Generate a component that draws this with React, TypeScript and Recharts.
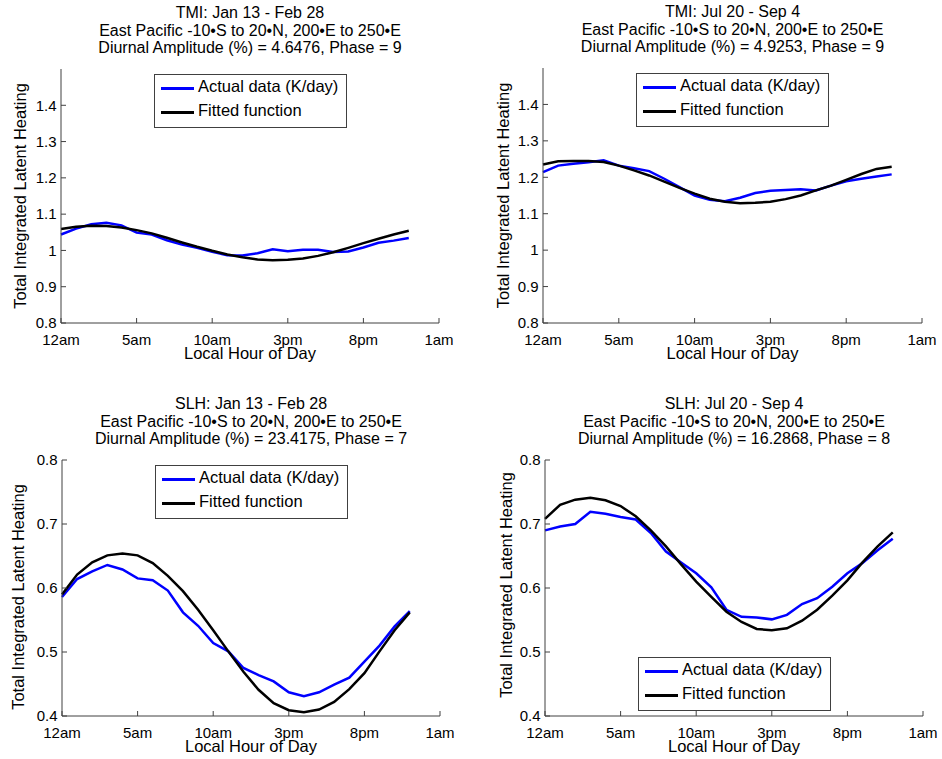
import React from 'react';
import { LineChart, Line, XAxis, YAxis, Legend } from 'recharts';

const hours = [0, 1, 2, 3, 4, 5, 6, 7, 8, 9, 10, 11, 12, 13, 14, 15, 16, 17, 18, 19, 20, 21, 22, 23];
const xTicks = [0, 5, 10, 15, 20, 25];
const xTickLabels = ['12am', '5am', '10am', '3pm', '8pm', '1am'];

const tmiYTicks = [0.8, 0.9, 1.0, 1.1, 1.2, 1.3, 1.4];
const tmiYTickLabels = ['0.8', '0.9', '1', '1.1', '1.2', '1.3', '1.4'];
const slhYTicks = [0.4, 0.5, 0.6, 0.7, 0.8];
const slhYTickLabels = ['0.4', '0.5', '0.6', '0.7', '0.8'];

const tmiJanActual = [1.044, 1.060, 1.072, 1.076, 1.069, 1.049, 1.044, 1.028, 1.016, 1.007, 0.996, 0.987, 0.986, 0.992, 1.003, 0.998, 1.002, 1.002, 0.996, 0.997, 1.008, 1.021, 1.027, 1.034];
const tmiJanFit = [1.059, 1.065, 1.068, 1.067, 1.063, 1.056, 1.047, 1.035, 1.022, 1.010, 0.999, 0.989, 0.981, 0.975, 0.973, 0.974, 0.978, 0.985, 0.995, 1.007, 1.020, 1.032, 1.044, 1.054];
const tmiJulActual = [1.214, 1.232, 1.237, 1.241, 1.247, 1.232, 1.225, 1.217, 1.196, 1.173, 1.150, 1.138, 1.134, 1.144, 1.157, 1.163, 1.165, 1.167, 1.164, 1.177, 1.189, 1.196, 1.202, 1.208];
const tmiJulFit = [1.235, 1.244, 1.245, 1.245, 1.242, 1.232, 1.219, 1.205, 1.188, 1.171, 1.155, 1.141, 1.133, 1.129, 1.130, 1.133, 1.140, 1.150, 1.164, 1.177, 1.193, 1.209, 1.223, 1.229];
const slhJanActual = [0.586, 0.614, 0.626, 0.636, 0.629, 0.615, 0.612, 0.596, 0.562, 0.541, 0.514, 0.501, 0.475, 0.464, 0.454, 0.437, 0.431, 0.437, 0.449, 0.460, 0.485, 0.510, 0.540, 0.564];
const slhJanFit = [0.590, 0.621, 0.640, 0.651, 0.654, 0.651, 0.639, 0.619, 0.595, 0.566, 0.534, 0.501, 0.469, 0.441, 0.420, 0.409, 0.406, 0.410, 0.422, 0.442, 0.467, 0.501, 0.534, 0.562];
const slhJulActual = [0.690, 0.696, 0.700, 0.719, 0.716, 0.711, 0.707, 0.686, 0.657, 0.640, 0.623, 0.601, 0.566, 0.555, 0.554, 0.551, 0.558, 0.575, 0.584, 0.602, 0.623, 0.639, 0.659, 0.677];
const slhJulFit = [0.708, 0.730, 0.738, 0.741, 0.737, 0.728, 0.712, 0.690, 0.665, 0.637, 0.610, 0.586, 0.563, 0.547, 0.536, 0.534, 0.537, 0.549, 0.566, 0.588, 0.612, 0.640, 0.665, 0.687];

const seriesNames = ['Actual data (K/day)', 'Fitted function'];
const axisTitleX = 'Local Hour of Day';
const axisTitleY = 'Total Integrated Latent Heating';

const FONT = '"Liberation Sans", Arial, Helvetica, sans-serif';
const BOX = '#404040';

type PanelProps = {
  left: number; top: number; width: number; height: number;
  yAxisWidth: number; marginTop: number; marginRight: number; xAxisHeight: number;
  domain: [number, number]; yTicks: number[]; yLabels: string[];
  actual: number[]; fit: number[]; titles: string[];
  legendBottom: boolean; yLabelOffset: number; yLabelShift: number;
};

const findLabel = (ticks: number[], labels: string[], v: number) => {
  const i = ticks.findIndex((t) => Math.abs(t - v) < 1e-9);
  return i >= 0 ? labels[i] : '';
};

const Panel = (p: PanelProps) => {
  const data = hours.map((h, i) => ({ hour: h, actual: p.actual[i], fit: p.fit[i] }));
  const plotLeft = p.yAxisWidth;
  const plotRight = p.width - p.marginRight;
  const plotTop = p.marginTop;
  const plotBottom = p.height - p.xAxisHeight;
  const cx = (plotLeft + plotRight) / 2;
  const cy = (plotTop + plotBottom) / 2;
  const legendW = 193;
  const legendH = 54;
  const legendLeft = plotLeft + 93;
  const legendTop = p.legendBottom ? plotBottom - 5 - legendH : plotTop + 5;

  const renderLegend = (props: any) => {
    const payload = (props && props.payload) || [];
    const rows = payload.length
      ? payload.map((e: any) => ({ name: e.value, color: e.color }))
      : [{ name: seriesNames[0], color: '#0000ff' }, { name: seriesNames[1], color: '#000000' }];
    return (
      <div style={{ width: legendW, height: legendH, border: `1px solid ${BOX}`, background: '#fff', boxSizing: 'border-box', position: 'relative', fontFamily: FONT, fontSize: 16.5, color: '#000' }}>
        {rows.map((r: any, i: number) => (
          <React.Fragment key={i}>
            <div style={{ position: 'absolute', left: 6, top: 12 + 24 * i, width: 33, height: 3, background: r.color }} />
            <div style={{ position: 'absolute', left: 43, top: 1 + 24 * i, lineHeight: '20px', whiteSpace: 'nowrap' }}>{r.name}</div>
          </React.Fragment>
        ))}
      </div>
    );
  };

  const YTitle = () => {
    const x = plotLeft - p.yLabelOffset;
    const y = cy + p.yLabelShift;
    return (
      <text x={x} y={y} transform={`rotate(-90, ${x}, ${y})`} textAnchor="middle" dominantBaseline="central" fontFamily={FONT} fontSize={16.5} fill="#000">
        {axisTitleY}
      </text>
    );
  };
  const XTitle = () => (
    <text x={cx} y={plotBottom + 30} textAnchor="middle" dominantBaseline="central" fontFamily={FONT} fontSize={16.5} fill="#000">
      {axisTitleX}
    </text>
  );

  return (
    <div style={{ position: 'absolute', left: p.left, top: p.top, width: p.width, height: p.height }}>
      {p.titles.map((t, i) => (
        <div key={i} style={{ position: 'absolute', left: cx - 250, width: 500, top: plotTop - 56 + 17.5 * i - 10, height: 20, lineHeight: '20px', textAlign: 'center', fontFamily: FONT, fontSize: 16, color: '#000', whiteSpace: 'nowrap' }}>
          {t}
        </div>
      ))}
      <LineChart width={p.width} height={p.height} data={data} margin={{ top: p.marginTop, right: p.marginRight, left: 0, bottom: 0 }}>
        <XAxis
          dataKey="hour" type="number" domain={[0, 25]} ticks={xTicks} interval={0}
          height={p.xAxisHeight} stroke={BOX} tickSize={-5} tickMargin={16.5}
          tick={{ fill: '#000', fontSize: 15, fontFamily: FONT }}
          tickFormatter={(v: number) => findLabel(xTicks, xTickLabels, v)}
          label={<XTitle />}
        />
        <XAxis
          xAxisId="top" orientation="top" dataKey="hour" type="number" domain={[0, 25]} ticks={xTicks} interval={0}
          height={0} stroke={BOX} tickSize={-5} tickFormatter={() => ''}
        />
        <YAxis
          type="number" domain={p.domain} ticks={p.yTicks} interval={0}
          width={p.yAxisWidth} stroke={BOX} tickSize={-5} tickMargin={9.5}
          tick={{ fill: '#000', fontSize: 15, fontFamily: FONT }}
          tickFormatter={(v: number) => findLabel(p.yTicks, p.yLabels, v)}
          label={<YTitle />}
        />
        <YAxis
          yAxisId="right" orientation="right" type="number" domain={p.domain} ticks={p.yTicks} interval={0}
          width={0} stroke={BOX} tickSize={-5} tickFormatter={() => ''}
        />
        <Legend
          layout="horizontal" verticalAlign="middle" align="center"
          wrapperStyle={{ left: legendLeft, top: legendTop, width: legendW, height: legendH }}
          content={renderLegend}
        />
        <Line dataKey="actual" name={seriesNames[0]} stroke="#0000ff" strokeWidth={2.5} dot={false} type="linear" isAnimationActive={false} />
        <Line dataKey="fit" name={seriesNames[1]} stroke="#000000" strokeWidth={2.5} dot={false} type="linear" isAnimationActive={false} />
      </LineChart>
    </div>
  );
};

export default function App() {
  return (
    <div style={{ position: 'absolute', left: 0, top: 0, width: 942, height: 759, background: '#fff', overflow: 'hidden' }}>
      <Panel left={0} top={0} width={471} height={380} yAxisWidth={61} marginTop={69} marginRight={32} xAxisHeight={57}
        domain={[0.8, 1.5]} yTicks={tmiYTicks} yLabels={tmiYTickLabels} actual={tmiJanActual} fit={tmiJanFit}
        titles={['TMI: Jan 13 - Feb 28', 'East Pacific -10\u2022S to 20\u2022N, 200\u2022E to 250\u2022E', 'Diurnal Amplitude (%) = 4.6476, Phase = 9']}
        legendBottom={false} yLabelOffset={41} yLabelShift={0} />
      <Panel left={471} top={0} width={471} height={380} yAxisWidth={72} marginTop={68} marginRight={20} xAxisHeight={57}
        domain={[0.8, 1.5]} yTicks={tmiYTicks} yLabels={tmiYTickLabels} actual={tmiJulActual} fit={tmiJulFit}
        titles={['TMI: Jul 20 - Sep 4', 'East Pacific -10\u2022S to 20\u2022N, 200\u2022E to 250\u2022E', 'Diurnal Amplitude (%) = 4.9253, Phase = 9']}
        legendBottom={false} yLabelOffset={40} yLabelShift={0} />
      <Panel left={0} top={380} width={471} height={379} yAxisWidth={62} marginTop={80} marginRight={31} xAxisHeight={43}
        domain={[0.4, 0.8]} yTicks={slhYTicks} yLabels={slhYTickLabels} actual={slhJanActual} fit={slhJanFit}
        titles={['SLH: Jan 13 - Feb 28', 'East Pacific -10\u2022S to 20\u2022N, 200\u2022E to 250\u2022E', 'Diurnal Amplitude (%) = 23.4175, Phase = 7']}
        legendBottom={false} yLabelOffset={44} yLabelShift={9} />
      <Panel left={471} top={380} width={471} height={379} yAxisWidth={74} marginTop={80} marginRight={19} xAxisHeight={43}
        domain={[0.4, 0.8]} yTicks={slhYTicks} yLabels={slhYTickLabels} actual={slhJulActual} fit={slhJulFit}
        titles={['SLH: Jul 20 - Sep 4', 'East Pacific -10\u2022S to 20\u2022N, 200\u2022E to 250\u2022E', 'Diurnal Amplitude (%) = 16.2868, Phase = 8']}
        legendBottom={true} yLabelOffset={39} yLabelShift={-3} />
    </div>
  );
}
